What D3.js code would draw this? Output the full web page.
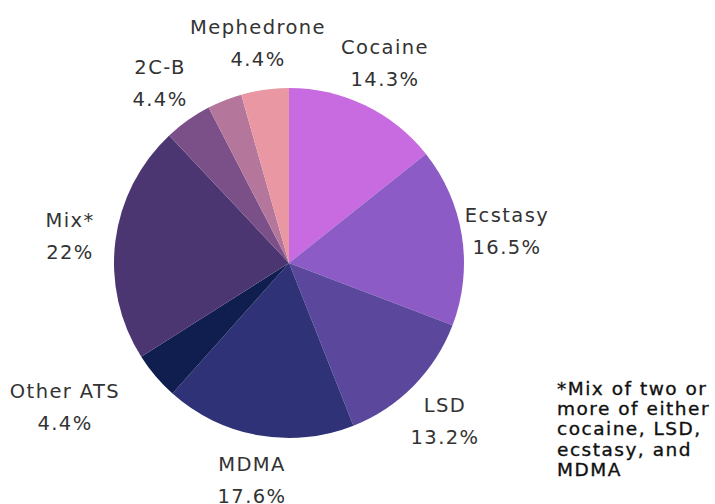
<!DOCTYPE html>
<html>
<head>
<meta charset="utf-8">
<script src="https://cdn.jsdelivr.net/npm/d3@7"></script>
<style>
  html, body { margin: 0; padding: 0; background: #fff; }
  svg { display: block; }
  .lbl { font-family: "DejaVu Sans", sans-serif; font-size: 19.5px; fill: #333; letter-spacing: 1.4px; }
  .note { font-family: "DejaVu Sans", sans-serif; font-size: 18.5px; fill: #111; stroke: #111; stroke-width: 0.35px; letter-spacing: 1.5px; }
</style>
</head>
<body>
<svg id="chart" width="715" height="504"></svg>
<script>
// Substances, shares of the total (%), drawn clockwise from 12 o'clock
const substances = ["Cocaine", "Ecstasy", "LSD", "MDMA", "Other ATS", "Mix*", "2C-B", "", "Mephedrone"];
const shares     = [14.3, 16.5, 13.2, 17.6, 4.4, 22, 4.4, 3.2, 4.4];
const colours    = ["#c86ae0", "#8d5bc5", "#5b489d", "#2f3276", "#0f1d4f", "#4c3672", "#7b4f88", "#b5769b", "#ea97a4"];
const footnote   = ["*Mix of two or", "more of either", "cocaine, LSD,", "ecstasy, and", "MDMA"];

// label anchor (centre x, first baseline) for each labelled slice
const labelPos = {
  "Cocaine":    [385, 54],
  "Ecstasy":    [507, 222],
  "LSD":        [445, 412],
  "MDMA":       [252, 471],
  "Other ATS":  [65, 398],
  "Mix*":       [70, 227],
  "2C-B":       [160, 74],
  "Mephedrone": [258, 34]
};

const svg = d3.select("#chart");
const cx = 289, cy = 263, r = 175;

const data = substances.map((name, i) => ({ name, value: shares[i], colour: colours[i] }));

const pie = d3.pie().value(d => d.value).sort(null);
const arc = d3.arc().innerRadius(0).outerRadius(r);

const g = svg.append("g").attr("transform", `translate(${cx},${cy})`);
g.selectAll("path")
  .data(pie(data))
  .join("path")
  .attr("d", arc)
  .attr("fill", d => d.data.colour);

const labels = svg.append("g");
data.filter(d => d.name).forEach(d => {
  const [x, y] = labelPos[d.name];
  const t = labels.append("text").attr("class", "lbl").attr("text-anchor", "middle");
  t.append("tspan").attr("x", x).attr("y", y).text(d.name);
  t.append("tspan").attr("x", x).attr("y", y + 31.5).text(d3.format("")(d.value) + "%");
});

const note = svg.append("text").attr("class", "note");
footnote.forEach((line, i) => {
  note.append("tspan").attr("x", 557).attr("y", 395 + i * 20.2).text(line);
});
</script>
</body>
</html>
